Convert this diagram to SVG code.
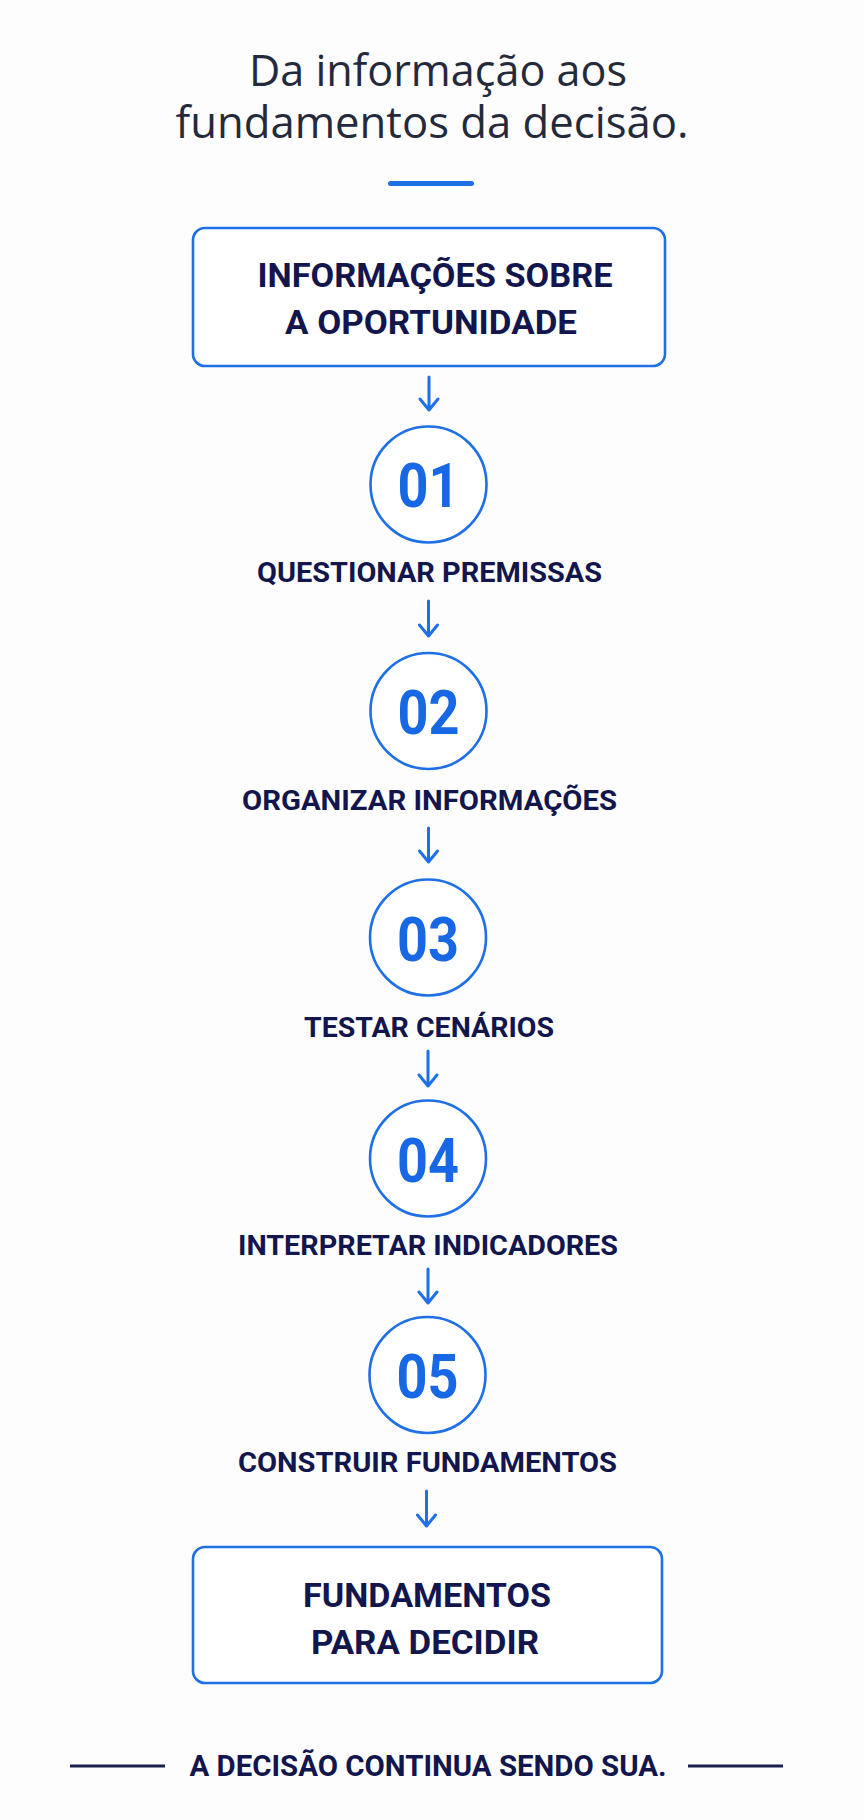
<svg xmlns="http://www.w3.org/2000/svg" width="864" height="1820" viewBox="0 0 864 1820">
<defs>
<style>
.title{font-family:"Open Sans","Noto Sans",sans-serif;font-size:44px;fill:#252a3b;text-anchor:middle}
.box{fill:#ffffff;stroke:#1f6fe6;stroke-width:2.6}
.circ{fill:#ffffff;stroke:#1f6fe6;stroke-width:2.6}
.bt{font-family:Roboto,"Liberation Sans",sans-serif;font-weight:700;font-size:34px;fill:#12164d;text-anchor:middle}
.num{font-family:Roboto,"Liberation Sans",sans-serif;font-weight:700;font-size:62px;fill:#1868e6;text-anchor:middle}
.lbl{font-family:Roboto,"Liberation Sans",sans-serif;font-weight:700;font-size:28px;fill:#12164d;text-anchor:middle}
.foot{font-family:Roboto,"Liberation Sans",sans-serif;font-weight:700;font-size:29px;fill:#12164d;text-anchor:middle}
.arr{fill:none;stroke:#1f6fe6;stroke-width:3;stroke-linecap:round;stroke-linejoin:round}
.rule{stroke:#1a1f4d;stroke-width:3}
</style>
</defs>
<rect width="864" height="1820" fill="#fdfdfe"/>
<g id="title">
<text class="title" x="438" y="86" textLength="378" lengthAdjust="spacingAndGlyphs">Da informação aos</text>
<text class="title" x="432" y="138" textLength="513" lengthAdjust="spacingAndGlyphs">fundamentos da decisão.</text>
<rect x="388" y="181" width="86" height="5" rx="2.5" fill="#1f6fe6"/>
</g>
<g id="connectors">
<path class="arr" d="M429 377V410M420 399L429 410L438 399"/>
<path class="arr" d="M428.5 601V636M419.5 625L428.5 636L437.5 625"/>
<path class="arr" d="M428.5 828V862M419.5 851L428.5 862L437.5 851"/>
<path class="arr" d="M428 1051V1086M419 1075L428 1086L437 1075"/>
<path class="arr" d="M428 1269V1303M419 1292L428 1303L437 1292"/>
<path class="arr" d="M426.5 1491V1526M417.5 1515L426.5 1526L435.5 1515"/>
</g>
<g id="start">
<rect class="box" x="193" y="228" width="472" height="138" rx="12"/>
<text class="bt" x="435" y="287" textLength="355" lengthAdjust="spacingAndGlyphs">INFORMAÇÕES SOBRE</text>
<text class="bt" x="431" y="334" textLength="292" lengthAdjust="spacingAndGlyphs">A OPORTUNIDADE</text>
</g>
<g id="step1">
<circle class="circ" cx="428.5" cy="484.5" r="58"/>
<text class="num" x="428.5" y="507" textLength="62" lengthAdjust="spacingAndGlyphs">01</text>
<text class="lbl" x="429.5" y="582" textLength="345" lengthAdjust="spacingAndGlyphs">QUESTIONAR PREMISSAS</text>
</g>
<g id="step2">
<circle class="circ" cx="428.5" cy="711" r="58"/>
<text class="num" x="428.5" y="734" textLength="62" lengthAdjust="spacingAndGlyphs">02</text>
<text class="lbl" x="429.5" y="810" textLength="375" lengthAdjust="spacingAndGlyphs">ORGANIZAR INFORMAÇÕES</text>
</g>
<g id="step3">
<circle class="circ" cx="428" cy="937.5" r="58"/>
<text class="num" x="428" y="961" textLength="62" lengthAdjust="spacingAndGlyphs">03</text>
<text class="lbl" x="429" y="1037" textLength="250" lengthAdjust="spacingAndGlyphs">TESTAR CENÁRIOS</text>
</g>
<g id="step4">
<circle class="circ" cx="428" cy="1158.5" r="58"/>
<text class="num" x="428" y="1182" textLength="62" lengthAdjust="spacingAndGlyphs">04</text>
<text class="lbl" x="428" y="1255" textLength="380" lengthAdjust="spacingAndGlyphs">INTERPRETAR INDICADORES</text>
</g>
<g id="step5">
<circle class="circ" cx="427.5" cy="1375" r="58"/>
<text class="num" x="427.5" y="1398" textLength="62" lengthAdjust="spacingAndGlyphs">05</text>
<text class="lbl" x="427.5" y="1472" textLength="379" lengthAdjust="spacingAndGlyphs">CONSTRUIR FUNDAMENTOS</text>
</g>
<g id="end">
<rect class="box" x="193" y="1547" width="469" height="136" rx="12"/>
<text class="bt" x="427" y="1607" textLength="248" lengthAdjust="spacingAndGlyphs">FUNDAMENTOS</text>
<text class="bt" x="425" y="1654" textLength="228" lengthAdjust="spacingAndGlyphs">PARA DECIDIR</text>
</g>
<g id="footer">
<line class="rule" x1="70" y1="1766" x2="165" y2="1766"/>
<line class="rule" x1="688" y1="1766" x2="783" y2="1766"/>
<text class="foot" x="428" y="1776" textLength="477" lengthAdjust="spacingAndGlyphs">A DECISÃO CONTINUA SENDO SUA.</text>
</g>
</svg>
